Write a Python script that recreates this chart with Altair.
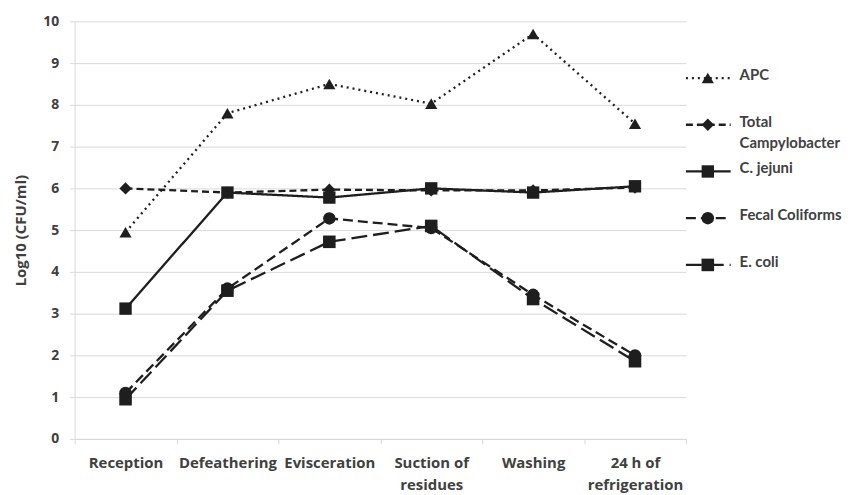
import altair as alt
import pandas as pd

steps = ["Reception", "Defeathering", "Evisceration", "Suction of residues", "Washing", "24 h of refrigeration"]
step_lines = [["Reception"], ["Defeathering"], ["Evisceration"], ["Suction of", "residues"], ["Washing"], ["24 h of", "refrigeration"]]
series = ["APC", "Total Campylobacters", "C. jejuni", "Fecal Coliforms", "E. coli"]

apc = [4.95, 7.8, 8.5, 8.03, 9.7, 7.55]
total_campy = [6.0, 5.9, 5.97, 5.95, 5.95, 6.02]
c_jejuni = [3.12, 5.9, 5.78, 6.0, 5.9, 6.05]
fecal = [1.1, 3.6, 5.28, 5.05, 3.45, 2.0]
ecoli = [0.95, 3.55, 4.72, 5.1, 3.35, 1.86]

values = [apc, total_campy, c_jejuni, fecal, ecoli]
rows = []
for s, vals in zip(series, values):
    for i, (st, v) in enumerate(zip(steps, vals)):
        rows.append({"series": s, "step": st, "idx": i, "value": v})
df = pd.DataFrame(rows)

dashes = [[2, 4], [7, 4], [1, 0], [10, 5], [16, 6]]
shapes = ["triangle-up", "diamond", "square", "circle", "square"]
sizes = [150, 160, 200, 170, 200]

INK = "#1e1e1e"
TXT = "#404040"
GRID = "#d9d9d9"
FONT = "Open Sans"
LEG_FONT = "Lato"

W, H = 615, 420
n = len(steps)
tick_vals = [i - 0.5 for i in range(n + 1)]
arr = "[" + ",".join("[" + ",".join("'" + p + "'" for p in parts) + "]" for parts in step_lines) + ",['']]"
label_expr = arr + "[datum.value + 0.5]"

dash_scale = alt.Scale(domain=series, range=dashes)
shape_scale = alt.Scale(domain=series, range=shapes)
size_scale = alt.Scale(domain=series, range=sizes)

base = alt.Chart(df).encode(
    x=alt.X("idx:Q",
            scale=alt.Scale(domain=[-0.5, n - 0.5], nice=False, zero=False),
            axis=alt.Axis(values=tick_vals, labelExpr=label_expr, labelOffset=W / n / 2,
                          title=None, grid=False, domainColor=GRID, tickColor=GRID, tickSize=5,
                          labelPadding=12, labelLineHeight=22, labelOverlap=False, labelFlush=False,
                          labelBound=False, labelAlign="center", labelBaseline="top",
                          labelFontSize=15)),
    y=alt.Y("value:Q",
            scale=alt.Scale(domain=[0, 10], nice=False),
            axis=alt.Axis(values=list(range(11)), title="Log10 (CFU/ml)", grid=True, gridColor=GRID,
                          domainColor=GRID, tickColor=GRID, tickSize=5, labelPadding=11,
                          titlePadding=14, labelFontSize=14, titleFontSize=15)),
)

lines = base.mark_line(strokeWidth=2.3, color=INK, strokeCap="butt").encode(
    strokeDash=alt.StrokeDash("series:N", scale=dash_scale, legend=None),
    detail="series:N",
)
points = base.mark_point(filled=True, color=INK, opacity=1).encode(
    shape=alt.Shape("series:N", scale=shape_scale, legend=None),
    size=alt.Size("series:N", scale=size_scale, legend=None),
)
main = alt.layer(lines, points).properties(width=W, height=H)

leg_df = pd.DataFrame({"series": series})
leg_base = alt.Chart(leg_df).transform_calculate(
    label="replace(datum.series, 'Total ', 'Total\\n')"
).encode(
    y=alt.Y("series:N", sort=series, scale=alt.Scale(type="point", range=[57, 245], padding=0), axis=None)
)
leg_rule = leg_base.mark_rule(strokeWidth=2.3, color=INK, strokeCap="butt").encode(
    x=alt.value(0), x2=alt.value(45),
    strokeDash=alt.StrokeDash("series:N", scale=dash_scale, legend=None),
)
leg_pts = leg_base.mark_point(filled=True, color=INK, opacity=1).encode(
    x=alt.value(22),
    shape=alt.Shape("series:N", scale=shape_scale, legend=None),
    size=alt.Size("series:N", scale=size_scale, legend=None),
)
leg_txt = leg_base.mark_text(align="left", baseline="top", dy=-10, font=LEG_FONT, fontSize=15,
                             fontWeight="bold", color=TXT, lineBreak="\n", lineHeight=21,
                             limit=103, ellipsis="\u200b").encode(
    x=alt.value(54), text="label:N"
)
legend = alt.layer(leg_rule, leg_pts, leg_txt).properties(width=150, height=H)

chart = alt.hconcat(main, legend, spacing=0, bounds="flush").configure_view(
    strokeWidth=0
).configure_axis(
    labelFont=FONT, labelFontWeight="bold", labelColor=TXT,
    titleFont=FONT, titleFontWeight="bold", titleColor=TXT,
).properties(padding={"left": 5, "top": 5, "right": 0, "bottom": 0})

chart.save("out.html", embed_options={"renderer": "svg", "actions": False})
